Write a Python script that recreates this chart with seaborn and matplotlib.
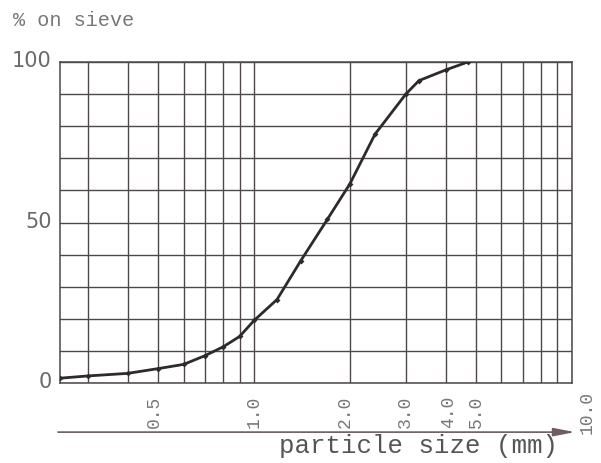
import matplotlib
matplotlib.use("Agg")
import matplotlib.pyplot as plt
import matplotlib.transforms as mtransforms
from matplotlib.ticker import FixedLocator, NullFormatter
import seaborn as sns
import pandas as pd

# ---- data ----
particle_size_mm = [0.245, 0.3, 0.4, 0.5, 0.6, 0.7, 0.8, 0.9, 1.0, 1.18,
                    1.4, 1.7, 2.0, 2.4, 3.0, 3.3, 4.0, 4.7]
percent_on_sieve = [1.5, 2.2, 3.0, 4.5, 5.8, 8.5, 11.3, 14.5, 19.5, 26.0,
                    38.0, 51.0, 62.0, 77.5, 90.0, 94.2, 97.5, 100.0]

x_major_ticks = [0.5, 1.0, 2.0, 3.0, 4.0, 5.0, 10.0]
x_major_labels = ["0.5", "1.0", "2.0", "3.0", "4.0", "5.0", "10.0"]
x_minor_ticks = [0.3, 0.4, 0.6, 0.7, 0.8, 0.9, 6, 7, 8, 9]
y_major_ticks = [0, 50, 100]
y_major_labels = ["0", "50", "100"]
y_minor_ticks = [10, 20, 30, 40, 60, 70, 80, 90]

df = pd.DataFrame({"size": particle_size_mm, "pct": percent_on_sieve})

sns.set_theme(style="white")
plt.rcParams["font.family"] = ["DejaVu Sans"]

fig = plt.figure(figsize=(6.01, 4.63), dpi=100)
ax = fig.add_axes([60 / 601, 1 - 383 / 463, (572 - 60) / 601, (383 - 62) / 463])

grid_color = "#4e4848"
ax.set_xscale("log")
ax.set_xlim(0.245, 10)
ax.set_ylim(0, 100)

sns.lineplot(data=df, x="size", y="pct", ax=ax, color="#2e2a2a", lw=2.0,
             marker="D", markersize=3, markeredgewidth=0, zorder=5)

ax.xaxis.set_major_locator(FixedLocator(x_major_ticks))
ax.xaxis.set_minor_locator(FixedLocator(x_minor_ticks))
ax.xaxis.set_minor_formatter(NullFormatter())
ax.set_xticklabels(x_major_labels)
ax.yaxis.set_major_locator(FixedLocator(y_major_ticks))
ax.yaxis.set_minor_locator(FixedLocator(y_minor_ticks))
ax.set_yticklabels(y_major_labels)

ax.grid(which="both", color=grid_color, lw=1.0)
for s in ax.spines.values():
    s.set_color(grid_color)
    s.set_linewidth(1.1)

ax.tick_params(which="both", length=0)
ax.tick_params(axis="x", pad=21)
ax.tick_params(axis="y", pad=6, labelsize=15, labelcolor="#6a6a6a")
ax.set_xlabel("")
ax.set_ylabel("")

mono = "Liberation Mono"
offsets_px = {"0.5": -4, "2.0": -5, "4.0": 3, "10.0": 15}
for lab in ax.get_xticklabels():
    lab.set_rotation(90)
    lab.set_va("center")
    lab.set_ha("center")
    lab.set_family(mono)
    lab.set_fontsize(13)
    lab.set_color("#777777")
    dx = offsets_px.get(lab.get_text(), 0)
    if dx:
        lab.set_transform(lab.get_transform() +
                          mtransforms.ScaledTranslation(dx / 100, 0, fig.dpi_scale_trans))
for lab in ax.get_yticklabels():
    lab.set_transform(lab.get_transform() +
                      mtransforms.ScaledTranslation(0, 3 / 100, fig.dpi_scale_trans))

# axis arrow under the tick labels
ax.annotate("", xy=(1.006, -0.153), xytext=(-0.004, -0.153),
            xycoords="axes fraction", textcoords="axes fraction",
            arrowprops=dict(arrowstyle="-|>,head_length=1.3,head_width=0.25",
                            color="#6e5c5e", lw=1.2, mutation_scale=10,
                            shrinkA=0, shrinkB=0),
            annotation_clip=False)

fig.text(13 / 601, 1 - 21 / 463, "% on sieve", family=mono, fontsize=14.5,
         color="#777777", ha="left", va="center")
fig.text(558 / 601, 1 - 446 / 463, "particle size (mm)", family=mono,
         fontsize=18.5, color="#555555", ha="right", va="center")

fig.savefig("out.png", dpi=100)
